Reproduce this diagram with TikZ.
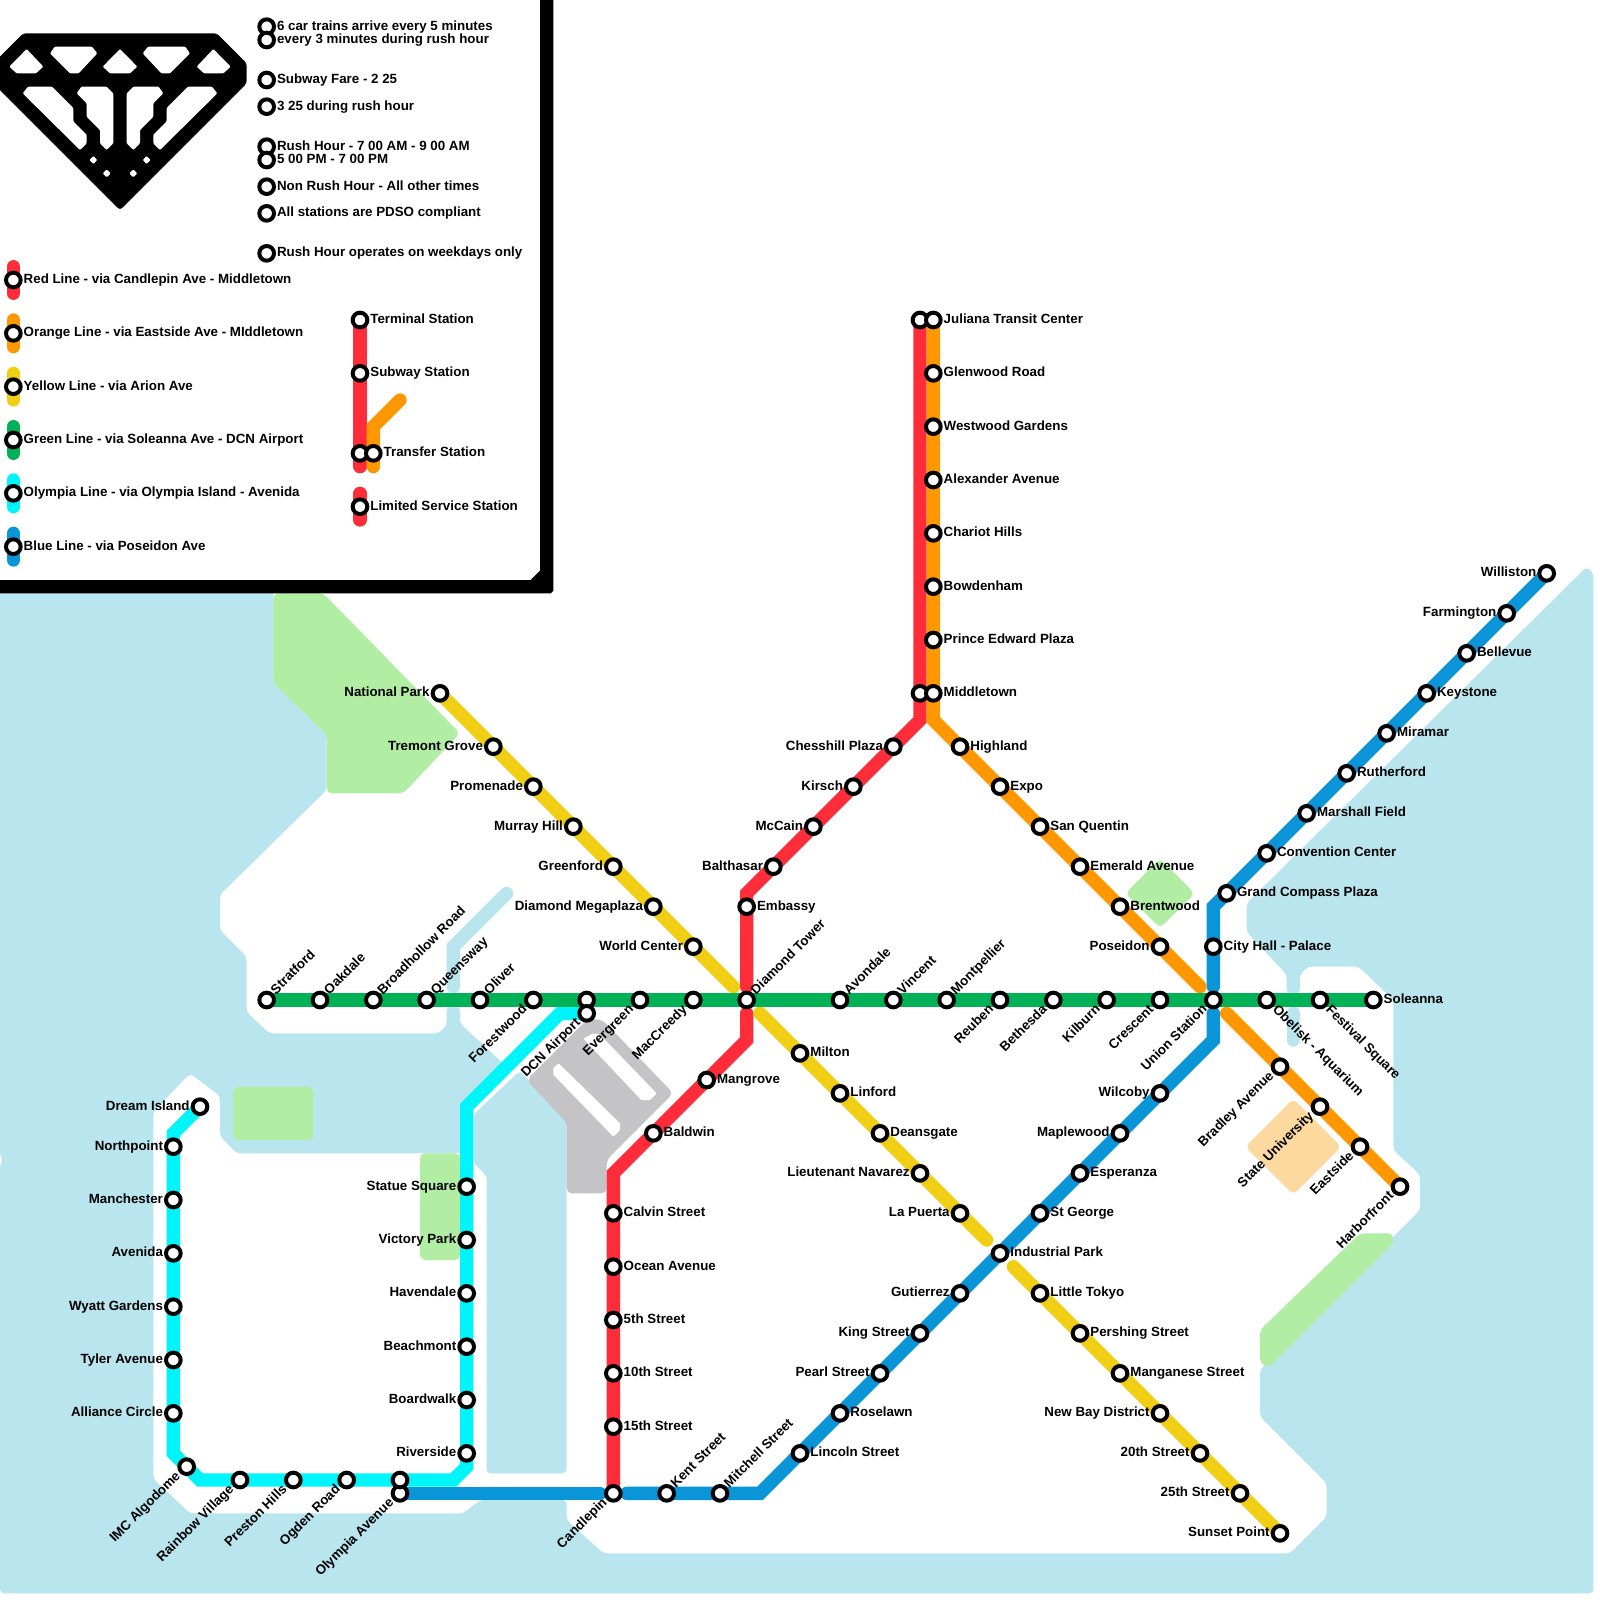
\documentclass[tikz,border=0pt]{standalone}
\usepackage{fontspec}
\setmainfont{Liberation Sans}
\usetikzlibrary{backgrounds}
\definecolor{waterblue}{RGB}{184,229,238}
\definecolor{parkgreen}{RGB}{177,238,163}
\definecolor{campus}{RGB}{252,217,158}
\definecolor{airport}{RGB}{196,196,198}
\definecolor{linered}{RGB}{255,45,58}
\definecolor{lineorange}{RGB}{255,152,0}
\definecolor{lineyellow}{RGB}{240,206,20}
\definecolor{linegreen}{RGB}{0,178,85}
\definecolor{linecyan}{RGB}{0,245,250}
\definecolor{lineblue}{RGB}{9,149,216}

\begin{document}
\begin{tikzpicture}[
    x=0.4cm, y=-0.4cm,
    stn/.style={circle, draw=black, fill=white, line width=3.4pt,
        minimum size=0.44cm, inner sep=0pt},
    lbl/.style={font=\fontsize{11.38}{13}\selectfont\bfseries, inner sep=0pt},
    lblr/.style={lbl, anchor=base west, xshift=0.025cm, yshift=-0.1cm},
    lbll/.style={lbl, anchor=base east, xshift=-0.025cm, yshift=-0.1cm},
    lblne/.style={lbl, xshift=0.08cm, yshift=-0.055cm, rotate=45, anchor=base west},
    lblsw/.style={lbl, xshift=0.03cm, yshift=-0.1cm, rotate=45, anchor=base east},
    lblse/.style={lbl, xshift=-0.04cm, yshift=-0.11cm, rotate=-45, anchor=base west},
    metro/.style={line width=0.4cm, line cap=round, line join=miter},
    redln/.style={metro, draw=linered},
    orangeln/.style={metro, draw=lineorange},
    yellowln/.style={metro, draw=lineyellow},
    greenln/.style={metro, draw=linegreen},
    cyanln/.style={metro, draw=linecyan},
    blueln/.style={metro, draw=lineblue},
    water/.style={fill=waterblue, rounded corners=0.12cm},
    channel/.style={draw=waterblue, line width=0.4cm, line cap=round},
    park/.style={fill=parkgreen, rounded corners=0.15cm},
    runway/.style={fill=white, rounded corners=0.02cm},
    gem/.style={fill=white, rounded corners=0.03cm}
]
\useasboundingbox (0,0) rectangle (120,120);

% legend
\node[stn, label={[lblr]right:6 car trains arrive every 5 minutes}] (note1) at (20,2) {};
\node[stn, label={[lblr]right:every 3 minutes during rush hour}] (note2) at (20,3) {};
\node[stn, label={[lblr]right:Subway Fare - 2 25}] (note3) at (20,6) {};
\node[stn, label={[lblr]right:3 25 during rush hour}] (note4) at (20,8) {};
\node[stn, label={[lblr]right:Rush Hour - 7 00 AM - 9 00 AM}] (note5) at (20,11) {};
\node[stn, label={[lblr]right:5 00 PM - 7 00 PM}] (note6) at (20,12) {};
\node[stn, label={[lblr]right:Non Rush Hour - All other times}] (note7) at (20,14) {};
\node[stn, label={[lblr]right:All stations are PDSO compliant}] (note8) at (20,16) {};
\node[stn, label={[lblr]right:Rush Hour operates on weekdays only}] (note9) at (20,19) {};
\node[stn, label={[lblr]right:Red Line - via Candlepin Ave - Middletown}] (keyred) at (1,21) {};
\node[stn, label={[lblr]right:Orange Line - via Eastside Ave - MIddletown}] (keyorange) at (1,25) {};
\node[stn, label={[lblr]right:Yellow Line - via Arion Ave}] (keyyellow) at (1,29) {};
\node[stn, label={[lblr]right:Green Line - via Soleanna Ave - DCN Airport}] (keygreen) at (1,33) {};
\node[stn, label={[lblr]right:Olympia Line - via Olympia Island - Avenida}] (keycyan) at (1,37) {};
\node[stn, label={[lblr]right:Blue Line - via Poseidon Ave}] (keyblue) at (1,41) {};
\node[stn, label={[lblr]right:Terminal Station}] (keyterm) at (27,24) {};
\node[stn, label={[lblr]right:Subway Station}] (keysub) at (27,28) {};
\node[stn] (keytrans) at (27,34) {};
\node[stn, label={[lblr]right:Transfer Station}] (keytransb) at (28,34) {};
\node[stn, label={[lblr]right:Limited Service Station}] (keylim) at (27,38) {};

% green line
\node[stn, label={[lblne]45:Stratford}] (stratford) at (20,75) {};
\node[stn, label={[lblne]45:Oakdale}] (oakdale) at (24,75) {};
\node[stn, label={[lblne]45:Broadhollow Road}] (broadhollow) at (28,75) {};
\node[stn, label={[lblne]45:Queensway}] (queensway) at (32,75) {};
\node[stn, label={[lblne]45:Oliver}] (oliver) at (36,75) {};
\node[stn, label={[lblsw]225:Forestwood}] (forestwood) at (40,75) {};
\node[stn] (dcngreen) at (44,75) {};
\node[stn, label={[lblsw]225:Evergreen}] (evergreen) at (48,75) {};
\node[stn, label={[lblsw]225:MacCreedy}] (maccreedy) at (52,75) {};
\node[stn, label={[lblne]45:Diamond Tower}] (diamond) at (56,75) {};
\node[stn, label={[lblne]45:Avondale}] (avondale) at (63,75) {};
\node[stn, label={[lblne]45:Vincent}] (vincent) at (67,75) {};
\node[stn, label={[lblne]45:Montpellier}] (montpellier) at (71,75) {};
\node[stn, label={[lblsw]225:Reuben}] (reuben) at (75,75) {};
\node[stn, label={[lblsw]225:Bethesda}] (bethesda) at (79,75) {};
\node[stn, label={[lblsw]225:Kilburn}] (kilburn) at (83,75) {};
\node[stn, label={[lblsw]225:Crescent}] (crescent) at (87,75) {};
\node[stn, label={[lblsw]225:Union Station}] (union) at (91,75) {};
\node[stn, label={[lblse]-45:Obelisk - Aquarium}] (obelisk) at (95,75) {};
\node[stn, label={[lblse]-45:Festival Square}] (festival) at (99,75) {};
\node[stn, label={[lblr]right:Soleanna}] (soleanna) at (103,75) {};

% red line
\node[stn] (julianared) at (69,24) {};
\node[stn] (midtownred) at (69,52) {};
\node[stn, label={[lbll]left:Chesshill Plaza}] (chesshill) at (67,56) {};
\node[stn, label={[lbll]left:Kirsch}] (kirsch) at (64,59) {};
\node[stn, label={[lbll]left:McCain}] (mccain) at (61,62) {};
\node[stn, label={[lbll]left:Balthasar}] (balthasar) at (58,65) {};
\node[stn, label={[lblr]right:Embassy}] (embassy) at (56,68) {};
\node[stn, label={[lblr]right:Mangrove}] (mangrove) at (53,81) {};
\node[stn, label={[lblr]right:Baldwin}] (baldwin) at (49,85) {};
\node[stn, label={[lblr]right:Calvin Street}] (calvin) at (46,91) {};
\node[stn, label={[lblr]right:Ocean Avenue}] (ocean) at (46,95) {};
\node[stn, label={[lblr]right:5th Street}] (fifth) at (46,99) {};
\node[stn, label={[lblr]right:10th Street}] (tenth) at (46,103) {};
\node[stn, label={[lblr]right:15th Street}] (fifteenth) at (46,107) {};
\node[stn, label={[lblsw]225:Candlepin}] (candlepin) at (46,112) {};

% orange line
\node[stn, label={[lblr]right:Juliana Transit Center}] (juliana) at (70,24) {};
\node[stn, label={[lblr]right:Glenwood Road}] (glenwood) at (70,28) {};
\node[stn, label={[lblr]right:Westwood Gardens}] (westwood) at (70,32) {};
\node[stn, label={[lblr]right:Alexander Avenue}] (alexander) at (70,36) {};
\node[stn, label={[lblr]right:Chariot Hills}] (chariot) at (70,40) {};
\node[stn, label={[lblr]right:Bowdenham}] (bowdenham) at (70,44) {};
\node[stn, label={[lblr]right:Prince Edward Plaza}] (prince) at (70,48) {};
\node[stn, label={[lblr]right:Middletown}] (midtown) at (70,52) {};
\node[stn, label={[lblr]right:Highland}] (highland) at (72,56) {};
\node[stn, label={[lblr]right:Expo}] (expo) at (75,59) {};
\node[stn, label={[lblr]right:San Quentin}] (quentin) at (78,62) {};
\node[stn, label={[lblr]right:Emerald Avenue}] (emerald) at (81,65) {};
\node[stn, label={[lblr]right:Brentwood}] (brentwood) at (84,68) {};
\node[stn, label={[lbll]left:Poseidon}] (poseidon) at (87,71) {};
\node[stn, label={[lblsw]225:Bradley Avenue}] (bradley) at (96,80) {};
\node[stn, label={[lblsw]225:State University}] (stateuni) at (99,83) {};
\node[stn, label={[lblsw]225:Eastside}] (eastside) at (102,86) {};
\node[stn, label={[lblsw]225:Harborfront}] (harborfront) at (105,89) {};

% yellow line
\node[stn, label={[lbll]left:National Park}] (national) at (33,52) {};
\node[stn, label={[lbll]left:Tremont Grove}] (tremont) at (37,56) {};
\node[stn, label={[lbll]left:Promenade}] (promenade) at (40,59) {};
\node[stn, label={[lbll]left:Murray Hill}] (murray) at (43,62) {};
\node[stn, label={[lbll]left:Greenford}] (greenford) at (46,65) {};
\node[stn, label={[lbll]left:Diamond Megaplaza}] (megaplaza) at (49,68) {};
\node[stn, label={[lbll]left:World Center}] (worldcenter) at (52,71) {};
\node[stn, label={[lblr]right:Milton}] (milton) at (60,79) {};
\node[stn, label={[lblr]right:Linford}] (linford) at (63,82) {};
\node[stn, label={[lblr]right:Deansgate}] (deansgate) at (66,85) {};
\node[stn, label={[lbll]left:Lieutenant Navarez}] (navarez) at (69,88) {};
\node[stn, label={[lbll]left:La Puerta}] (puerta) at (72,91) {};
\node[stn, label={[lblr]right:Little Tokyo}] (tokyo) at (78,97) {};
\node[stn, label={[lblr]right:Pershing Street}] (pershing) at (81,100) {};
\node[stn, label={[lblr]right:Manganese Street}] (manganese) at (84,103) {};
\node[stn, label={[lbll]left:New Bay District}] (newbay) at (87,106) {};
\node[stn, label={[lbll]left:20th Street}] (twentieth) at (90,109) {};
\node[stn, label={[lbll]left:25th Street}] (twentyfifth) at (93,112) {};
\node[stn, label={[lbll]left:Sunset Point}] (sunset) at (96,115) {};

% blue line
\node[stn, label={[lblsw]225:Olympia Avenue}] (olympia) at (30,112) {};
\node[stn, label={[lblne]45:Kent Street}] (kent) at (50,112) {};
\node[stn, label={[lblne]45:Mitchell Street}] (mitchell) at (54,112) {};
\node[stn, label={[lblr]right:Lincoln Street}] (lincoln) at (60,109) {};
\node[stn, label={[lblr]right:Roselawn}] (roselawn) at (63,106) {};
\node[stn, label={[lbll]left:Pearl Street}] (pearl) at (66,103) {};
\node[stn, label={[lbll]left:King Street}] (king) at (69,100) {};
\node[stn, label={[lbll]left:Gutierrez}] (gutierrez) at (72,97) {};
\node[stn, label={[lblr]right:Industrial Park}] (industrial) at (75,94) {};
\node[stn, label={[lblr]right:St George}] (george) at (78,91) {};
\node[stn, label={[lblr]right:Esperanza}] (esperanza) at (81,88) {};
\node[stn, label={[lbll]left:Maplewood}] (maplewood) at (84,85) {};
\node[stn, label={[lbll]left:Wilcoby}] (wilcoby) at (87,82) {};
\node[stn, label={[lblr]right:City Hall - Palace}] (cityhall) at (91,71) {};
\node[stn, label={[lblr]right:Grand Compass Plaza}] (compass) at (92,67) {};
\node[stn, label={[lblr]right:Convention Center}] (convention) at (95,64) {};
\node[stn, label={[lblr]right:Marshall Field}] (marshall) at (98,61) {};
\node[stn, label={[lblr]right:Rutherford}] (rutherford) at (101,58) {};
\node[stn, label={[lblr]right:Miramar}] (miramar) at (104,55) {};
\node[stn, label={[lblr]right:Keystone}] (keystone) at (107,52) {};
\node[stn, label={[lblr]right:Bellevue}] (bellevue) at (110,49) {};
\node[stn, label={[lbll]left:Farmington}] (farmington) at (113,46) {};
\node[stn, label={[lbll]left:Williston}] (williston) at (116,43) {};

% olympia line
\node[stn, label={[lbll]left:Dream Island}] (dream) at (15,83) {};
\node[stn, label={[lbll]left:Northpoint}] (northpoint) at (13,86) {};
\node[stn, label={[lbll]left:Manchester}] (manchester) at (13,90) {};
\node[stn, label={[lbll]left:Avenida}] (avenida) at (13,94) {};
\node[stn, label={[lbll]left:Wyatt Gardens}] (wyatt) at (13,98) {};
\node[stn, label={[lbll]left:Tyler Avenue}] (tyler) at (13,102) {};
\node[stn, label={[lbll]left:Alliance Circle}] (alliance) at (13,106) {};
\node[stn, label={[lblsw]225:IMC Algodome}] (algodome) at (14,110) {};
\node[stn, label={[lblsw]225:Rainbow Village}] (rainbow) at (18,111) {};
\node[stn, label={[lblsw]225:Preston Hills}] (preston) at (22,111) {};
\node[stn, label={[lblsw]225:Ogden Road}] (ogden) at (26,111) {};
\node[stn] (olympiatop) at (30,111) {};
\node[stn, label={[lbll]left:Riverside}] (riverside) at (35,109) {};
\node[stn, label={[lbll]left:Boardwalk}] (boardwalk) at (35,105) {};
\node[stn, label={[lbll]left:Beachmont}] (beachmont) at (35,101) {};
\node[stn, label={[lbll]left:Havendale}] (havendale) at (35,97) {};
\node[stn, label={[lbll]left:Victory Park}] (victory) at (35,93) {};
\node[stn, label={[lbll]left:Statue Square}] (statue) at (35,89) {};
\node[stn, label={[lblsw]225:DCN Airport}] (dcn) at (44,76) {};

\begin{pgfonlayer}{background}
% water and land
\path[water] (0,44) -- (20.5,44) -- (20.5,51.25) -- (24.5,55.1) -- (24.5,59.25)
    -- (16.5,67.1) -- (16.5,69.75) -- (18.5,71.75) -- (18.5,75.9) -- (20.2,77.5)
    -- (32.9,77.5) -- (33.5,76.9) -- (33.5,75.5) -- (34.5,75.5) -- (34.5,76.75)
    -- (38,80) -- (35,83) -- (35,86) -- (34.5,86.5) -- (17.75,86.5)
    -- (16.5,85.2) -- (16.5,82.2) -- (14.25,80.5) -- (11.5,83.4) -- (11.5,110.9)
    -- (14.25,113.5) -- (34.75,113.5) -- (36,112.5) -- (42.5,112.5) -- (42.5,114)
    -- (45.25,116.5) -- (96.75,116.5) -- (99.5,113.75) -- (99.5,111.25)
    -- (94.5,106.25) -- (94.5,102.75) -- (104.5,92.75) -- (106.5,90.75)
    -- (106.5,88.1) -- (104.5,86.25) -- (104.5,75) -- (101.9,72.5) -- (98.1,72.5)
    -- (97.5,73.1) -- (97.5,74.5) -- (96.5,74.5) -- (96.5,73.1) -- (93.5,69.9)
    -- (93.5,67.75) -- (119,42.5) -- (119.5,43) -- (119.5,119.5) -- (0,119.5)
    -- (0,87.2) -- (0.3,87) -- (0,86.8) -- cycle;
\path[water] (35.5,83.6) -- (39,80.3) -- (42.5,84.1) -- (42.5,110.5) -- (36.5,110.5)
    -- (36.5,88.2) -- (35.5,87.2) -- cycle;
\draw[channel] (34,74) -- (34,71) -- (38,67);
\draw[channel] (97,76) -- (97,78);
% parks
\path[park] (20.5,44.5) -- (24.25,44.5) -- (34.5,55) -- (30.25,59.5) -- (24.5,59.5)
    -- (24.5,55.1) -- (20.5,51.25) -- cycle;
\path[park] (87,64.4) -- (89.6,67) -- (87,69.6) -- (84.4,67) -- cycle;
\path[park] (17.5,81.5) rectangle (23.5,85.5);
\path[park] (31.5,86.5) rectangle (34.5,94.5);
\path[park] (94.5,99.75) -- (102,92.5) -- (104.5,92.5) -- (104.5,93.2) -- (95.1,102.6)
    -- (94.5,102.2) -- cycle;
\path[park, fill=campus] (97,82.4) -- (100.6,86) -- (97,89.6) -- (93.4,86) -- cycle;
% airport
\path[fill=airport, rounded corners=0.15cm] (39.5,81) -- (44.1,76.4) -- (45.2,76.5)
    -- (50.5,82) -- (45.5,87) -- (45.5,89.5) -- (42.5,89.5) -- (42.5,84.2) -- cycle;
\path[runway] (41.9,79.75) -- (41.5,80.1) -- (41.5,80.6)
    -- (46,85.25) -- (46.5,84.75) -- (46.5,84.25) -- cycle;
\path[runway] (43.75,77.9) -- (44.5,77.5) -- (45,77.6)
    -- (49.25,82) -- (48.75,82.5) -- (48.1,82.5) -- cycle;
% metro lines
\draw[blueln] (olympia.center) -- (45,112);
\draw[blueln] (47,112) -- (57,112) -- (91,78) -- (91,76);
\draw[blueln] (91,74) -- (91,68) -- (williston.center);
\draw[redln] (julianared.center) -- (69,54) -- (56,67) -- (56,74);
\draw[redln] (56,76) -- (56,78) -- (46,88) -- (candlepin.center);
\draw[orangeln] (juliana.center) -- (70,54) -- (90,74);
\draw[orangeln] (92,76) -- (harborfront.center);
\draw[yellowln] (national.center) -- (55,74);
\draw[yellowln] (57,76) -- (74,93);
\draw[yellowln] (76,95) -- (sunset.center);
\draw[cyanln] (dream.center) -- (13,85) -- (13,109) -- (15,111) -- (34,111) -- (35,110)
    -- (35,83) -- (42,76) -- (dcn.center);
\draw[greenln] (stratford.center) -- (soleanna.center);
% legend frame and swatches
\fill (40.5,-1) -- (41.5,-1) -- (41.5,44.3) -- (41.3,44.5) -- (-1,44.5) -- (-1,43.5)
    -- (39.8,43.5) -- (40.5,42.8) -- cycle;
\draw[redln] (1,20) -- (1,22);
\draw[orangeln] (1,24) -- (1,26);
\draw[yellowln] (1,28) -- (1,30);
\draw[greenln] (1,32) -- (1,34);
\draw[cyanln] (1,36) -- (1,38);
\draw[blueln] (1,40) -- (1,42);
\draw[redln] (keyterm.center) -- (27,35);
\draw[orangeln] (30,30) -- (28,32) -- (28,35);
\draw[redln] (27,37) -- (27,39);
% diamond
\fill[rounded corners=0.08cm] (1.75,2.5) -- (16.25,2.5) -- (18.5,4.75) -- (18.5,6.25)
    -- (9,15.75) -- (-0.5,6.25) -- (-0.5,4.75) -- cycle;
\path[gem] (2,3.675) -- (3.25,5) -- (2.7,5.5) -- (1.25,5.5) -- (0.7,5) -- cycle;
\path[gem] (4.1,3.5) -- (6.9,3.5) -- (7.3,4) -- (5.9,5.5) -- (5.25,5.5) -- (3.75,4) -- cycle;
\path[gem] (9,3.675) -- (10.3,5) -- (9.75,5.5) -- (8.25,5.5) -- (7.7,5) -- cycle;
\path[gem] (13.9,3.5) -- (11.1,3.5) -- (10.7,4) -- (12.1,5.5) -- (12.75,5.5) -- (14.25,4) -- cycle;
\path[gem] (16,3.675) -- (14.75,5) -- (15.3,5.5) -- (16.75,5.5) -- (17.3,5) -- cycle;
\path[gem] (2.1,6.5) -- (3.9,6.5) -- (5.5,8.1) -- (5.5,9.1) -- (6.5,10.1) -- (6.5,10.75)
    -- (6,11.25) -- (1.7,7) -- cycle;
\path[gem] (6.1,6.5) -- (8,6.5) -- (8.5,7) -- (8.5,10.75) -- (8,11.25) -- (7.5,10.75)
    -- (7.5,9.75) -- (6.5,8.75) -- (6.5,7.75) -- (5.75,7) -- cycle;
\path[gem] (11.9,6.5) -- (10,6.5) -- (9.5,7) -- (9.5,10.75) -- (10,11.25) -- (10.5,10.75)
    -- (10.5,9.75) -- (11.5,8.75) -- (11.5,7.75) -- (12.25,7) -- cycle;
\path[gem] (15.9,6.5) -- (14.1,6.5) -- (12.5,8.1) -- (12.5,9.1) -- (11.5,10.1) -- (11.5,10.75)
    -- (12,11.25) -- (16.3,7) -- cycle;
\path[gem] (7,11.7) -- (7.3,12) -- (7,12.3) -- (6.7,12) -- cycle;
\path[gem] (8,12.7) -- (8.3,13) -- (8,13.3) -- (7.7,13) -- cycle;
\path[gem] (10,12.7) -- (10.3,13) -- (10,13.3) -- (9.7,13) -- cycle;
\path[gem] (11,11.7) -- (11.3,12) -- (11,12.3) -- (10.7,12) -- cycle;
\end{pgfonlayer}
\end{tikzpicture}
\end{document}
